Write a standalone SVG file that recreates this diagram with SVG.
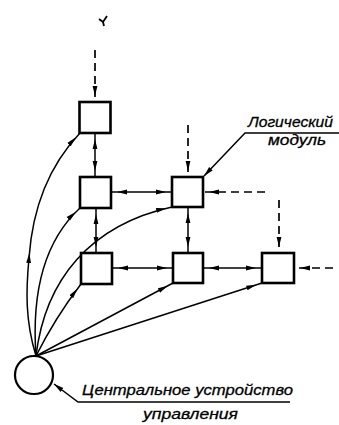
<svg xmlns="http://www.w3.org/2000/svg" width="339" height="425" viewBox="0 0 339 425">
<style>
.box{fill:#fff;stroke:#000;stroke-width:2.6}
.ln{fill:none;stroke:#000;stroke-width:1.5}
.dash{fill:none;stroke:#000;stroke-width:1.7;stroke-dasharray:8 5}
.lbl{font-family:"Liberation Sans","DejaVu Sans",sans-serif;font-style:italic;font-size:15px;fill:#000;stroke:#000;stroke-width:0.3}
</style>
<defs>
<marker id="ar" markerUnits="userSpaceOnUse" markerWidth="11" markerHeight="6" refX="16" refY="3" orient="auto-start-reverse">
<path d="M0,0.6 L10,3 L0,5.4 z" fill="#000"/>
</marker>
<marker id="ar2" markerUnits="userSpaceOnUse" markerWidth="11" markerHeight="6" refX="10" refY="3" orient="auto-start-reverse">
<path d="M0,0.6 L10,3 L0,5.4 z" fill="#000"/>
</marker>
<marker id="mid" markerUnits="userSpaceOnUse" markerWidth="11" markerHeight="6" refX="5" refY="3" orient="auto">
<path d="M0,0.6 L10,3 L0,5.4 z" fill="#000"/>
</marker>
</defs>

<g id="connectors">
<path class="dash" d="M95,50 V102" marker-end="url(#ar)"/>
<path class="dash" d="M188,125 V177" marker-end="url(#ar)"/>
<path class="dash" d="M265,192 H203" marker-end="url(#ar)"/>
<path class="dash" d="M279,200 V253" marker-end="url(#ar)"/>
<path class="dash" d="M333,268 H294" marker-end="url(#ar)"/>
<path class="ln" d="M95,133 V177" marker-start="url(#ar)" marker-end="url(#ar)"/>
<path class="ln" d="M111,192 H172" marker-start="url(#ar)" marker-end="url(#ar)"/>
<path class="ln" d="M96,208 V253" marker-start="url(#ar)" marker-end="url(#ar)"/>
<path class="ln" d="M188,207 V253" marker-start="url(#ar)" marker-end="url(#ar)"/>
<path class="ln" d="M112,268 H173" marker-start="url(#ar)" marker-end="url(#ar)"/>
<path class="ln" d="M203,268 H262" marker-start="url(#ar)" marker-end="url(#ar)"/>
<path class="ln" d="M36,356 C25,320 26,290 29,258 C32,215 45,170 80,133" marker-mid="url(#mid)" marker-end="url(#ar)"/>
<path class="ln" d="M36,356 C32,300 40,245 80,208" marker-end="url(#ar)"/>
<path class="ln" d="M36,356 C45,280 90,225 172,207" marker-end="url(#ar)"/>
<path class="ln" d="M36,356 Q55,318 81,284" marker-end="url(#ar)"/>
<path class="ln" d="M36,356 L173,283" marker-end="url(#ar)"/>
<path class="ln" d="M36,356 L262,283" marker-end="url(#ar)"/>
<path class="ln" d="M339,133 H245 L204,176" marker-end="url(#ar2)"/>
<path class="ln" d="M290,402 H78 L54,384" marker-end="url(#ar2)"/>
</g>

<g id="nodeA"><rect class="box" x="79.5" y="102" width="31" height="31"/></g>
<g id="nodeB"><rect class="box" x="80" y="177" width="31" height="31"/></g>
<g id="nodeC"><rect class="box" x="172" y="177" width="31" height="30"/></g>
<g id="nodeD"><rect class="box" x="81" y="253" width="31" height="31"/></g>
<g id="nodeE"><rect class="box" x="173" y="253" width="30" height="30"/></g>
<g id="nodeF"><rect class="box" x="262" y="253" width="32" height="30"/></g>
<g id="control"><circle cx="34" cy="375" r="19" fill="#fff" stroke="#000" stroke-width="2.2"/></g>

<g id="mark"><path d="M99,19 L103,22 L107,16 M103,22 L104,26" fill="none" stroke="#000" stroke-width="1.8"/></g>

<g id="labels">
<text class="lbl" x="248" y="127" textLength="85" lengthAdjust="spacingAndGlyphs">Логический</text>
<text class="lbl" x="268" y="145" textLength="58" lengthAdjust="spacingAndGlyphs">модуль</text>
<text class="lbl" x="82" y="395" textLength="211" lengthAdjust="spacingAndGlyphs">Центральное устройство</text>
<text class="lbl" x="143" y="419" textLength="95" lengthAdjust="spacingAndGlyphs">управления</text>
</g>
</svg>
